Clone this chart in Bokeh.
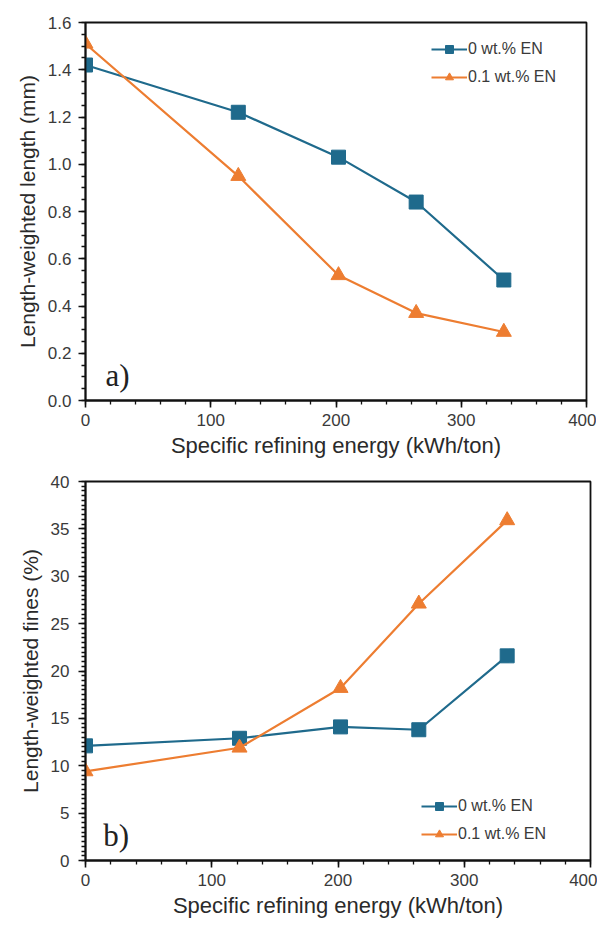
from bokeh.plotting import figure
from bokeh.layouts import column
from bokeh.models import Label, Range1d, SingleIntervalTicker, NumeralTickFormatter
from bokeh.embed import file_html
from bokeh.resources import INLINE

# Specific refining energy (kWh/ton)
energy = [0, 122, 202, 264, 334]

# a) length-weighted fibre length (mm)
length_0en = [1.42, 1.22, 1.03, 0.84, 0.51]
length_01en = [1.51, 0.95, 0.53, 0.37, 0.29]

# b) length-weighted fines (%)
fines_0en = [12.1, 12.9, 14.1, 13.8, 21.6]
fines_01en = [9.4, 11.9, 18.2, 27.1, 35.9]

series_names = ["0 wt.% EN", "0.1 wt.% EN"]
BLUE = "#1f6a8c"
ORANGE = "#ed7d31"
FONT = "Liberation Sans"
TXT = "#3a3a3a"


def make_panel(y0, y1, y_max, y_step, minor, ylabel, tag, tag_x, tag_y, legend_xy,
               fw, fh, left, top, bottom, fmt, ystandoff):
    p = figure(width=612, height=463, output_backend="svg", toolbar_location=None,
               x_range=Range1d(0, 400), y_range=Range1d(0, y_max),
               frame_width=fw, frame_height=fh,
               min_border_left=left, min_border_top=top, min_border_right=10,
               min_border_bottom=bottom)
    p.background_fill_color = "white"
    p.border_fill_color = "white"
    p.outline_line_color = "#111111"
    p.outline_line_width = 1.8
    p.grid.visible = False

    p.line(energy, y0, line_color=BLUE, line_width=2.2, legend_label=series_names[0])
    p.scatter(energy, y0, marker="square", size=14, fill_color=BLUE, line_color=BLUE,
              legend_label=series_names[0])
    p.line(energy, y1, line_color=ORANGE, line_width=2.2, legend_label=series_names[1])
    p.scatter(energy, y1, marker="triangle", size=15, fill_color=ORANGE, line_color=ORANGE,
              legend_label=series_names[1])

    p.xaxis.ticker = SingleIntervalTicker(interval=100, num_minor_ticks=5)
    p.yaxis.ticker = SingleIntervalTicker(interval=y_step, num_minor_ticks=minor)
    p.yaxis.formatter = NumeralTickFormatter(format=fmt)

    for ax in (p.xaxis[0], p.yaxis[0]):
        ax.axis_line_color = "#111111"
        ax.axis_line_width = 1.8
        ax.major_tick_line_color = "#111111"
        ax.major_tick_line_width = 1.6
        ax.minor_tick_line_color = "#111111"
        ax.minor_tick_line_width = 1.3
        ax.major_tick_out = 7
        ax.major_tick_in = 0
        ax.minor_tick_out = 4
        ax.minor_tick_in = 0
        ax.major_label_text_font = FONT
        ax.major_label_text_font_size = "17px"
        ax.major_label_text_color = TXT
        ax.axis_label_text_font = FONT
        ax.axis_label_text_font_style = "normal"
        ax.axis_label_text_color = "#2a2a2a"

    p.xaxis.axis_label = "Specific refining energy (kWh/ton)"
    p.yaxis.axis_label = ylabel
    p.xaxis.axis_label_text_font_size = "22px"
    p.yaxis.axis_label_text_font_size = "21px"
    p.xaxis.major_label_standoff = 6
    p.xaxis.axis_label_standoff = 4
    p.yaxis.major_label_standoff = ystandoff
    p.yaxis.axis_label_standoff = 6

    p.legend.location = legend_xy
    p.legend.border_line_color = None
    p.legend.background_fill_alpha = 0
    p.legend.label_text_font = FONT
    p.legend.label_text_font_size = "16px"
    p.legend.label_text_color = TXT
    p.legend.glyph_width = 36
    p.legend.glyph_height = 20
    p.legend.label_height = 20
    p.legend.spacing = 8
    p.legend.padding = 8
    p.legend.margin = 0
    p.legend.label_standoff = 1

    p.add_layout(Label(x=tag_x, y=tag_y, text=tag, text_font="Liberation Serif",
                       text_font_size="31px", text_color="#222222"))
    return p


pa = make_panel(length_0en, length_01en, 1.6, 0.2, 4, "Length-weighted length (mm)",
                "a)", 16, 0.03, (346, 313), 501, 378, 85, 22, 63, "0.0", 7)

pb = make_panel(fines_0en, fines_01en, 40, 5, 10, "Length-weighted fines (%)",
                "b)", 14, 0.84, (336, 16), 505, 379, 82, 18, 10, "0", 9)

layout = column(pa, pb, spacing=0)
open("out.html", "w").write(file_html(layout, INLINE))
